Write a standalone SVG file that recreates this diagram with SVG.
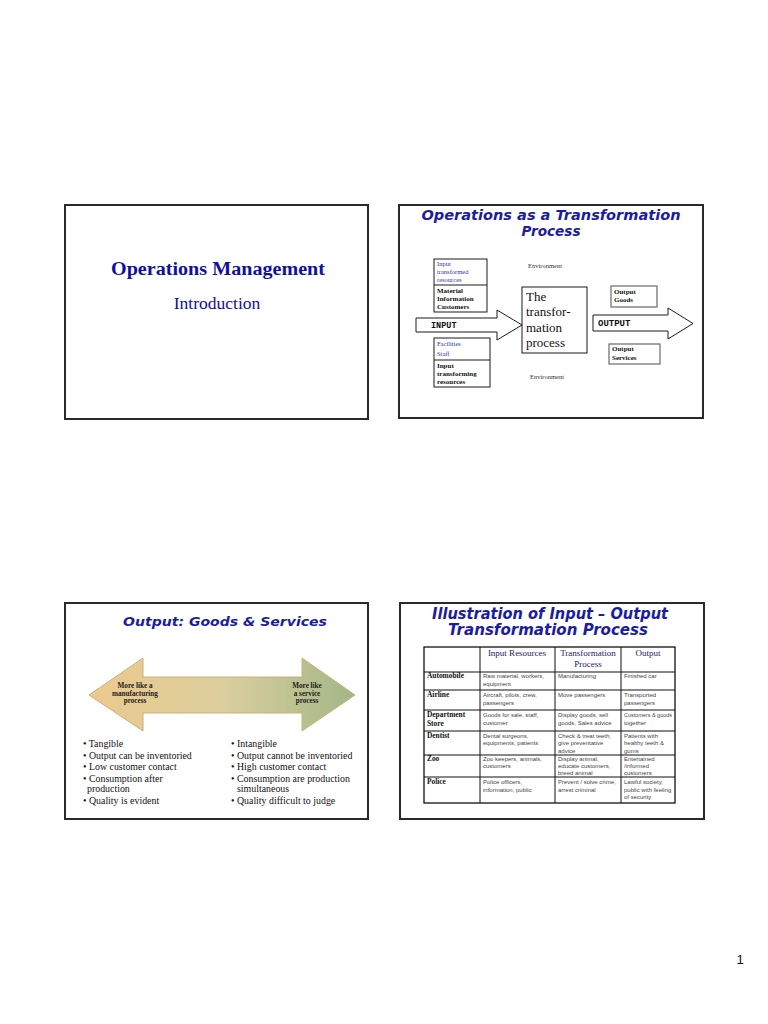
<svg xmlns="http://www.w3.org/2000/svg" width="768" height="1024" viewBox="0 0 768 1024">
<defs>
<style>
.slide{fill:#fff;stroke:#2a2a2a;stroke-width:2}
.ttl{font-family:"DejaVu Sans",sans-serif;font-weight:bold;font-style:italic;fill:#1c1ca0}
.serif{font-family:"Liberation Serif","Times New Roman",serif}
.box{fill:#fff;stroke:#1a1a1a;stroke-width:1}
.gbox{fill:#fff;stroke:#6a6a6a;stroke-width:1.2}
.blue{fill:#3333a8;font-size:6.5px}
.bk{fill:#111;font-size:7px;font-weight:bold}
.env{fill:#333;font-size:6.5px}
.blk{fill:#fff;stroke:#1a1a1a;stroke-width:1}
.mono{font-family:"Liberation Mono","Courier New",monospace;font-weight:bold;fill:#111}
.bul{font-family:"Liberation Serif","Times New Roman",serif;font-size:9.9px;fill:#111}
.arrt{font-family:"Liberation Serif","Times New Roman",serif;font-size:7.2px;font-weight:bold;fill:#222;text-anchor:middle}
.grid{stroke:#111;stroke-width:1;fill:none}
.hd{font-family:"Liberation Serif","Times New Roman",serif;font-size:9px;fill:#1a1a60;text-anchor:middle}
.rl{font-family:"Liberation Serif","Times New Roman",serif;font-size:7.4px;font-weight:bold;fill:#111}
.ct{font-family:"Liberation Sans",Arial,sans-serif;font-size:6px;fill:#444}
</style>
<linearGradient id="dg" x1="0" y1="0" x2="1" y2="0">
<stop offset="0" stop-color="#ecc98c"/>
<stop offset="0.5" stop-color="#dccf9e"/>
<stop offset="1" stop-color="#a2b787"/>
</linearGradient>
</defs>
<rect width="768" height="1024" fill="#fff"/>

<g id="slide-frames">
<rect class="slide" x="65" y="205" width="303" height="214"/>
<rect class="slide" x="399" y="205" width="304" height="213"/>
<rect class="slide" x="65" y="603" width="303" height="216"/>
<rect class="slide" x="400" y="603" width="304" height="216"/>
</g>

<!-- Slide 1 -->
<g id="slide1">
<text class="serif" x="218" y="275" font-size="18" font-weight="bold" fill="#1010a0" text-anchor="middle" textLength="214" lengthAdjust="spacingAndGlyphs">Operations Management</text>
<text class="serif" x="217" y="309" font-size="17.5" fill="#1010a0" text-anchor="middle">Introduction</text>
</g>

<!-- Slide 2 -->
<g id="slide2">
<text class="ttl" x="551" y="220" font-size="14" text-anchor="middle" textLength="259" lengthAdjust="spacingAndGlyphs">Operations as a Transformation</text>
<text class="ttl" x="551" y="235.5" font-size="14" text-anchor="middle" textLength="59" lengthAdjust="spacingAndGlyphs">Process</text>
</g>

<g id="connectors">
<path id="input-arrow" class="blk" d="M416,318 L497,318 L497,310 L522,325 L497,340 L497,332 L416,332 Z"/>
<path id="output-arrow" class="blk" d="M593,315 L668,315 L668,308 L693,323.5 L668,339 L668,331 L593,331 Z"/>
<path id="goods-services-arrow" d="M89,695 L143,658 L143,677 L302,677 L302,658 L355,695 L302,731 L302,713 L143,713 L143,731 Z" fill="url(#dg)" stroke="#c8b07c" stroke-width="1"/>
</g>

<g id="input-label">
<text class="mono" x="431" y="328" font-size="8.5">INPUT</text>
</g>
<g id="output-label">
<text class="mono" x="598" y="326" font-size="9">OUTPUT</text>
</g>

<g id="transformed-resources">
<rect class="box" x="434" y="259" width="53" height="53"/>
<line x1="434" y1="285" x2="487" y2="285" stroke="#1a1a1a" stroke-width="1"/>
<text class="serif blue" x="437" y="266">Input</text>
<text class="serif blue" x="437" y="274">transformed</text>
<text class="serif blue" x="437" y="282">resources</text>
<text class="serif bk" x="437" y="293">Material</text>
<text class="serif bk" x="437" y="301">Information</text>
<text class="serif bk" x="437" y="309">Customers</text>
</g>

<g id="transforming-resources">
<rect class="box" x="434" y="338" width="56" height="49"/>
<line x1="434" y1="360" x2="490" y2="360" stroke="#1a1a1a" stroke-width="1"/>
<text class="serif blue" x="437" y="346">Facilities</text>
<text class="serif blue" x="437" y="356">Staff</text>
<text class="serif bk" x="437" y="368">Input</text>
<text class="serif bk" x="437" y="376">transforming</text>
<text class="serif bk" x="437" y="384">resources</text>
</g>

<g id="transformation-process">
<rect class="box" x="522" y="287" width="65" height="66"/>
<text class="serif" x="526" y="301" font-size="13" fill="#111">The</text>
<text class="serif" x="526" y="316" font-size="13" fill="#111">transfor-</text>
<text class="serif" x="526" y="332" font-size="13" fill="#111">mation</text>
<text class="serif" x="526" y="347" font-size="13" fill="#111">process</text>
</g>

<g id="env-top"><text class="serif env" x="528" y="268">Environment</text></g>
<g id="env-bottom"><text class="serif env" x="530" y="379">Environment</text></g>

<g id="output-goods">
<rect class="gbox" x="611" y="286" width="46" height="21"/>
<text class="serif bk" x="614" y="294">Output</text>
<text class="serif bk" x="614" y="302">Goods</text>
</g>
<g id="output-services">
<rect class="gbox" x="609" y="344" width="51" height="20"/>
<text class="serif bk" x="612" y="351">Output</text>
<text class="serif bk" x="612" y="360">Services</text>
</g>

<!-- Slide 3 -->
<g id="slide3">
<text class="ttl" x="225" y="626" font-size="13" text-anchor="middle" textLength="204" lengthAdjust="spacingAndGlyphs">Output: Goods &amp; Services</text>
</g>
<g id="manufacturing-end">
<text class="arrt" x="135" y="688">More like a</text>
<text class="arrt" x="135" y="695.5">manufacturing</text>
<text class="arrt" x="135" y="703">process</text>
</g>
<g id="service-end">
<text class="arrt" x="307" y="688">More like</text>
<text class="arrt" x="307" y="695.5">a service</text>
<text class="arrt" x="307" y="703">process</text>
</g>
<g id="goods-list">
<text class="bul" x="83" y="747">• Tangible</text>
<text class="bul" x="83" y="758.5">• Output can be inventoried</text>
<text class="bul" x="83" y="770">• Low customer contact</text>
<text class="bul" x="83" y="781.5">• Consumption after</text>
<text class="bul" x="87" y="792">production</text>
<text class="bul" x="83" y="803.5">• Quality is evident</text>
</g>
<g id="services-list">
<text class="bul" x="231" y="747">• Intangible</text>
<text class="bul" x="231" y="758.5">• Output cannot be inventoried</text>
<text class="bul" x="231" y="770">• High customer contact</text>
<text class="bul" x="231" y="781.5">• Consumption are production</text>
<text class="bul" x="237" y="792">simultaneous</text>
<text class="bul" x="231" y="803.5">• Quality difficult to judge</text>
</g>

<!-- Slide 4 -->
<g id="slide4">
<text class="ttl" x="550" y="619" font-size="15" text-anchor="middle" textLength="236" lengthAdjust="spacingAndGlyphs">Illustration of Input – Output</text>
<text class="ttl" x="548" y="635" font-size="15" text-anchor="middle" textLength="200" lengthAdjust="spacingAndGlyphs">Transformation Process</text>
</g>

<g id="table">
<rect x="424" y="647" width="251" height="156" fill="#fff" stroke="#111" stroke-width="1.3"/>
<path class="grid" d="M480,647 V803 M555,647 V803 M621,647 V803 M424,672 H675 M424,690 H675 M424,710 H675 M424,731 H675 M424,755 H675 M424,777 H675"/>
<text class="hd" x="517" y="656">Input Resources</text>
<text class="hd" x="588" y="656">Transformation</text>
<text class="hd" x="588" y="667">Process</text>
<text class="hd" x="648" y="656">Output</text>

<text class="rl" x="427" y="678">Automobile</text>
<text class="ct" x="483" y="678">Raw material, workers,</text>
<text class="ct" x="483" y="686">equipment</text>
<text class="ct" x="558" y="678">Manufacturing</text>
<text class="ct" x="624" y="678">Finished car</text>

<text class="rl" x="427" y="697">Airline</text>
<text class="ct" x="483" y="697">Aircraft, pilots, crew,</text>
<text class="ct" x="483" y="705">passengers</text>
<text class="ct" x="558" y="697">Move passengers</text>
<text class="ct" x="624" y="697">Transported</text>
<text class="ct" x="624" y="705">passengers</text>

<text class="rl" x="427" y="717">Department</text>
<text class="rl" x="427" y="726">Store</text>
<text class="ct" x="483" y="717">Goods for sale, staff,</text>
<text class="ct" x="483" y="725">customer</text>
<text class="ct" x="558" y="717">Display goods, sell</text>
<text class="ct" x="558" y="725">goods, Sales advice</text>
<text class="ct" x="624" y="717" textLength="48" lengthAdjust="spacingAndGlyphs">Customers &amp; goods</text>
<text class="ct" x="624" y="725">together</text>

<text class="rl" x="427" y="737.5">Dentist</text>
<text class="ct" x="483" y="737.5">Dental surgeons,</text>
<text class="ct" x="483" y="745">equipments, patients</text>
<text class="ct" x="558" y="737.5">Check &amp; treat teeth,</text>
<text class="ct" x="558" y="745">give preventative</text>
<text class="ct" x="558" y="752.5">advice</text>
<text class="ct" x="624" y="737.5">Patients with</text>
<text class="ct" x="624" y="745">healthy teeth &amp;</text>
<text class="ct" x="624" y="752.5">gums</text>

<text class="rl" x="427" y="761">Zoo</text>
<text class="ct" x="483" y="761">Zoo keepers, animals,</text>
<text class="ct" x="483" y="768">customers</text>
<text class="ct" x="558" y="761">Display animal,</text>
<text class="ct" x="558" y="768">educate customers,</text>
<text class="ct" x="558" y="775">breed animal</text>
<text class="ct" x="624" y="761">Entertained</text>
<text class="ct" x="624" y="768">/informed</text>
<text class="ct" x="624" y="775">customers</text>

<text class="rl" x="427" y="784">Police</text>
<text class="ct" x="483" y="784">Police officers,</text>
<text class="ct" x="483" y="791.5">information, public</text>
<text class="ct" x="558" y="784">Prevent / solve crime,</text>
<text class="ct" x="558" y="791.5">arrest criminal</text>
<text class="ct" x="624" y="784">Lawful society,</text>
<text class="ct" x="624" y="791.5">public with feeling</text>
<text class="ct" x="624" y="799">of security</text>
</g>

<g id="page-number">
<text x="740" y="964" font-family="Liberation Sans, Arial, sans-serif" font-size="13" fill="#111" text-anchor="middle">1</text>
</g>
</svg>
